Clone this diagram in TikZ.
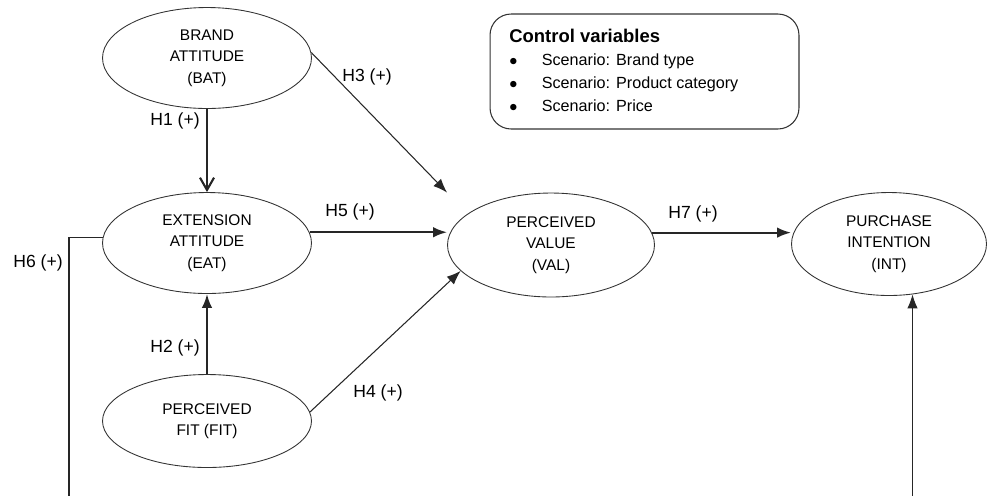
\documentclass[tikz,border=0pt]{standalone}
\usepackage{fontspec}
\setmainfont{Liberation Sans}
\usepackage{tikz}
\usetikzlibrary{arrows.meta,shapes,calc}
\tikzstyle{construct} = [ellipse, draw=black!80, line width=0.5pt,%
	minimum width=4.18cm, minimum height=2.02cm, inner sep=0pt,%
	align=center, font=\fontsize{8.8}{12.3}\selectfont]
\tikzstyle{hyp} = [font=\fontsize{10}{12}\selectfont, inner sep=0pt]
\tikzstyle{thick arrow} = [line width=1.2pt, black!85, -{Latex[length=8pt,width=6pt]}]
\tikzstyle{thin arrow} = [line width=0.6pt, black!85, -{Latex[length=8pt,width=6pt]}]
\tikzstyle{barb arrow} = [line width=1.2pt, black!85, -{Straight Barb[length=7pt,width=8pt,line width=1.2pt]}]

\begin{document}
\begin{tikzpicture}[x=0.02cm, y=-0.02cm]
		\useasboundingbox (0,0) rectangle (990,495);
		\clip (0,0) rectangle (990,495);
		% constructs
		\node[construct] (bat) at (207,58) {BRAND\\ATTITUDE\\(BAT)};
		\node[construct] (eat) at (207,243) {EXTENSION\\ATTITUDE\\(EAT)};
		\node[construct, minimum height=1.86cm] (fit) at (207,421) {PERCEIVED\\FIT (FIT)};
		\node[construct, minimum width=4.14cm, minimum height=2.08cm] (val) at (551,245) {PERCEIVED\\VALUE\\(VAL)};
		\node[construct, minimum width=3.9cm, minimum height=2.06cm] (int) at (889,244) {PURCHASE\\INTENTION\\(INT)};
		% control variables
		\node[draw=black!80, line width=0.6pt, rounded corners=12pt, minimum width=6.18cm,%
			minimum height=2.3cm] (ctrl) at (644.5,71.5) {};
		\node[anchor=north west, inner sep=0pt, align=left, font=\fontsize{9.2}{13}\selectfont] (ctrltext) at (509,29)
			{{\fontsize{10.5}{12}\selectfont\bfseries Control variables}\\
			\makebox[18.5pt][l]{$\bullet$}Scenario: Brand type\\
			\makebox[18.5pt][l]{$\bullet$}Scenario: Product category\\
			\makebox[18.5pt][l]{$\bullet$}Scenario: Price};
		% paths
		\coordinate (h6low) at (69,520);
		\draw[barb arrow] (bat.south) -- (eat.north);
		\draw[thick arrow] (fit.north) -- (eat.south);
		\draw[thin arrow] (bat.3) -- (val.north -| val.west);
		\draw[thin arrow] (fit.5) -- (val.196);
		\draw[thick arrow] (eat.6) -- (val.west |- eat.6);
		\draw[thick arrow] (val.7) -- (int.west |- val.7);
		\draw[thin arrow] (eat.177) -| (h6low) -| (int.-65);
		% labels
		\node[hyp, anchor=east] (h1) at (200,121) {H1 (+)};
		\node[hyp, anchor=east] (h2) at (200,348) {H2 (+)};
		\node[hyp, anchor=west] (h3) at (342,77) {H3 (+)};
		\node[hyp, anchor=west] (h4) at (353,393) {H4 (+)};
		\node[hyp, anchor=west] (h5) at (325,212) {H5 (+)};
		\node[hyp, anchor=east] (h6) at (63,263) {H6 (+)};
		\node[hyp, anchor=west] (h7) at (668,214) {H7 (+)};
	\end{tikzpicture}
\end{document}
